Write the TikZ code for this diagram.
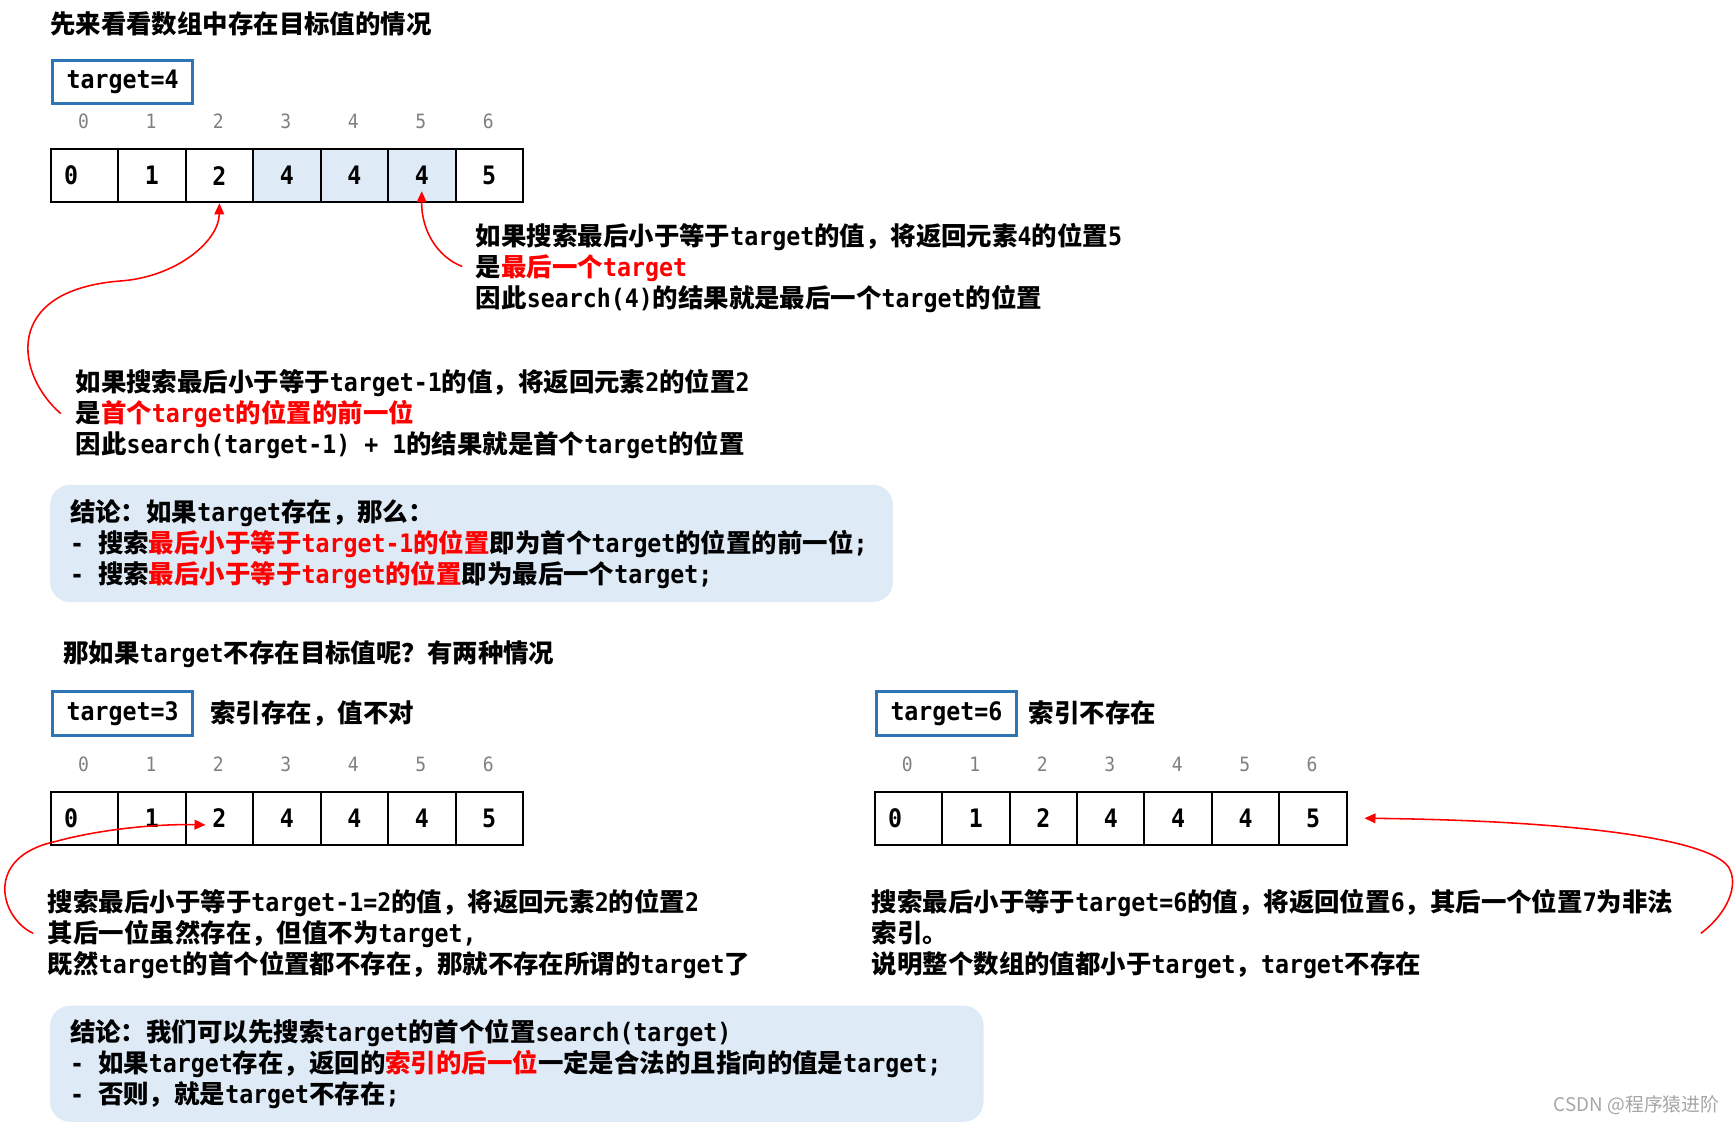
\documentclass[tikz,border=0pt]{standalone}
\usepackage{fontspec}
\usetikzlibrary{arrows.meta}
\setmainfont{DejaVu Sans Mono}[FakeStretch=0.9136]
\newfontfamily\cjk{Noto Sans CJK SC}
\definecolor{tblue}{HTML}{2E75B6}
\definecolor{lblue}{HTML}{DEEBF7}
\definecolor{idxgray}{HTML}{808080}
\definecolor{wmgray}{HTML}{A6A6A6}
\newcommand\zh[1]{{\cjk#1}}
\newcommand\rd[1]{{\color{red}#1}}
\newcommand\bodyfont{\fontsize{11.5}{14}\selectfont\bfseries}
\begin{document}
\begin{tikzpicture}[x=0.5pt,y=-0.5pt,
  txt/.style={anchor=base west, inner sep=0pt, font=\bodyfont},
  cell/.style={draw=black, line width=0.9pt, minimum width=30.5pt, minimum height=24pt, inner sep=0pt, anchor=north west},
  val/.style={inner sep=0pt, font=\bodyfont},
  idx/.style={inner sep=0pt, text=idxgray, font=\fontsize{8.9}{10}\selectfont},
  tbox/.style={draw=tblue, line width=1.35pt, minimum width=63.15pt, minimum height=19.65pt, inner sep=0pt, anchor=north west, font=\bodyfont},
  concl/.style={fill=lblue, rounded corners=9pt, anchor=north west, inner sep=0pt},
  redarrow/.style={draw=red, line width=0.7pt, -{Triangle[length=5pt,width=4.4pt]}},
]
\useasboundingbox[fill=white] (0,0) rectangle (1568,1017.3);

% ---------- section 1 ----------
\node[txt] (t1) at (45,30) {\zh{先来看看数组中存在目标值的情况}};
\node[tbox] (b1) at (46.35,53.35) {target=4};
\foreach \v/\f/\s [count=\i from 0] in {0/white/-6pt,1/white/0pt,2/white/0pt,4/lblue/0pt,4/lblue/0pt,4/lblue/0pt,5/white/0pt} {
  \node[cell, fill=\f] (a\i) at ({45+61*\i},134) {};
  \node[val] (av\i) at ([xshift=\s]a\i.center) {\v};
  \node[idx] (ai\i) at ({75.5+61*\i},110) {\i};
}
\node[txt] (tA1) at (430,222) {\zh{如果搜索最后小于等于}target\zh{的值，将返回元素}4\zh{的位置}5};
\node[txt] (tA2) at (430,250) {\zh{是}\rd{\zh{最后一个}target}};
\node[txt] (tA3) at (430,278) {\zh{因此}search(4)\zh{的结果就是最后一个}target\zh{的位置}};

\node[txt] (tB1) at (68,354) {\zh{如果搜索最后小于等于}target-1\zh{的值，将返回元素}2\zh{的位置}2};
\node[txt] (tB2) at (68,382) {\zh{是}\rd{\zh{首个}target\zh{的位置的前一位}}};
\node[txt] (tB3) at (68,410) {\zh{因此}search(target-1) + 1\zh{的结果就是首个}target\zh{的位置}};

\coordinate (sA) at (418,241);
\draw[redarrow] (sA) .. controls (395,232) and (381,208) .. ([yshift=-7pt]a5.center);
\coordinate (sB) at (55,374);
\draw[redarrow] (sB) .. controls (15,340) and (0,262) .. (110,254) .. controls (160,250) and (198,218) .. (a2.south);

\node[concl, minimum width=381pt, minimum height=53pt] (k1) at (45,438) {};
\node[txt] (k1a) at (63,472) {\zh{结论：如果}target\zh{存在，那么：}};
\node[txt] (k1b) at (63,500) {-\ \zh{搜索}\rd{\zh{最后小于等于}target-1\zh{的位置}}\zh{即为首个}target\zh{的位置的前一位};};
\node[txt] (k1c) at (63,528) {-\ \zh{搜索}\rd{\zh{最后小于等于}target\zh{的位置}}\zh{即为最后一个}target;};

% ---------- section 2 ----------
\node[txt] (t2) at (57,599) {\zh{那如果}target\zh{不存在目标值呢？有两种情况}};

\node[tbox] (b2) at (46.35,624.35) {target=3};
\node[txt] (b2l) at (190,653) {\zh{索引存在，值不对}};
\foreach \v/\s [count=\i from 0] in {0/-6pt,1/0pt,2/0pt,4/0pt,4/0pt,4/0pt,5/0pt} {
  \node[cell] (b\i) at ({45+61*\i},715) {};
  \node[val] (bv\i) at ([xshift=\s]b\i.center) {\v};
  \node[idx] (bi\i) at ({75.5+61*\i},691) {\i};
}
\node[txt] (tC1) at (43,824) {\zh{搜索最后小于等于}target-1=2\zh{的值，将返回元素}2\zh{的位置}2};
\node[txt] (tC2) at (43,852) {\zh{其后一位虽然存在，但值不为}target,};
\node[txt] (tC3) at (43,880) {\zh{既然}target\zh{的首个位置都不存在，那就不存在所谓的}target\zh{了}};
\coordinate (sC) at (30,844);
\draw[redarrow] (sC) .. controls (0,830) and (-15,775) .. (50,761) .. controls (90,750) and (140,745) .. ([xshift=-6.25pt,yshift=-3pt]b2.center);

\node[tbox] (b3) at (791.35,624.35) {target=6};
\node[txt] (b3l) at (930,653) {\zh{索引不存在}};
\foreach \v/\s [count=\i from 0] in {0/-6pt,1/0pt,2/0pt,4/0pt,4/0pt,4/0pt,5/0pt} {
  \node[cell] (c\i) at ({790+61*\i},715) {};
  \node[val] (cv\i) at ([xshift=\s]c\i.center) {\v};
  \node[idx] (ci\i) at ({820.5+61*\i},691) {\i};
}
\node[txt] (tD1) at (788,824) {\zh{搜索最后小于等于}target=6\zh{的值，将返回位置}6\zh{，其后一个位置}7\zh{为非法}};
\node[txt] (tD2) at (788,852) {\zh{索引。}};
\node[txt] (tD3) at (788,880) {\zh{说明整个数组的值都小于}target\zh{，}target\zh{不存在}};
\coordinate (sD) at (1538,844);
\draw[redarrow] (sD) .. controls (1562,826) and (1573,800) .. (1563,784) .. controls (1545,758) and (1420,742) .. ([xshift=7.5pt]c6.east);

\node[concl, minimum width=422pt, minimum height=52.5pt] (k2) at (45,909) {};
\node[txt] (k2a) at (63,942) {\zh{结论：我们可以先搜索}target\zh{的首个位置}search(target)};
\node[txt] (k2b) at (63,970) {-\ \zh{如果}target\zh{存在，返回的}\rd{\zh{索引的后一位}}\zh{一定是合法的且指向的值是}target;};
\node[txt] (k2c) at (63,998) {-\ \zh{否则，就是}target\zh{不存在};};

\node[anchor=base east, inner sep=0pt, text=wmgray, font=\cjk\fontsize{8.5}{10}\selectfont] (wm) at (1555,1005) {CSDN @程序猿进阶};
\end{tikzpicture}
\end{document}
